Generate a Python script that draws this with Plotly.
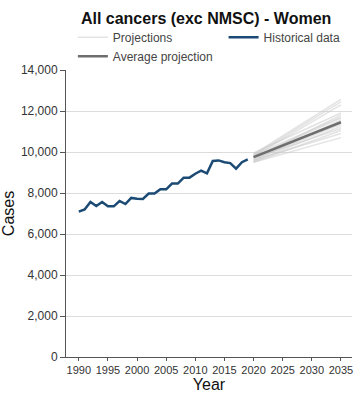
import plotly.graph_objects as go

hist_years = list(range(1990, 2020))
hist_values = [7090, 7200, 7560, 7370, 7560, 7350, 7350, 7610, 7460, 7760,
               7720, 7710, 7970, 7970, 8180, 8180, 8460, 8460, 8750, 8750,
               8940, 9090, 8960, 9560, 9590, 9500, 9460, 9190, 9500, 9640]

proj_years = [2020, 2025, 2030, 2035]
projections = [
    [9900, 10780, 11680, 12570],
    [9850, 10720, 11590, 12450],
    [9800, 10640, 11480, 12300],
    [9950, 10600, 11250, 11900],
    [9700, 10400, 11100, 11800],
    [9750, 10380, 11020, 11650],
    [9600, 10250, 10900, 11550],
    [9800, 10350, 10900, 11450],
    [9650, 10220, 10780, 11350],
    [9550, 10120, 10680, 11250],
    [9700, 10180, 10660, 11150],
    [9500, 10020, 10530, 11050],
    [9600, 10030, 10470, 10900],
    [9500, 9900, 10300, 10700],
    [9850, 10470, 11080, 11700],
]
avg_projection = [9750, 10320, 10890, 11450]

x_ticks = list(range(1990, 2040, 5))
y_ticks = list(range(0, 16000, 2000))

fig = go.Figure()
for i, p in enumerate(projections):
    fig.add_trace(go.Scatter(
        x=proj_years, y=p, mode="lines",
        line=dict(color="rgba(200,200,200,0.5)", width=1.5),
        name="Projections", showlegend=(i == 0), legendgroup="proj",
        legend="legend", hoverinfo="skip"))
fig.add_trace(go.Scatter(
    x=proj_years, y=avg_projection, mode="lines",
    line=dict(color="#6e6e6e", width=2.5),
    name="Average projection", legend="legend"))
fig.add_trace(go.Scatter(
    x=hist_years, y=hist_values, mode="lines",
    line=dict(color="#1b4a74", width=2.5),
    name="Historical data", legend="legend2"))

font_family = "Liberation Sans, Arial, sans-serif"
fig.update_layout(
    width=360, height=400,
    margin=dict(l=66, r=8, t=70, b=43, autoexpand=False),
    plot_bgcolor="white", paper_bgcolor="white",
    font=dict(family=font_family, size=12, color="#333333"),
    title=dict(text="<b>All cancers (exc NMSC) - Women</b>",
               xref="paper", x=0.49, xanchor="center",
               yref="container", y=0.967, yanchor="top",
               font=dict(size=16, color="#111111")),
    legend=dict(x=0.024, y=1.165, xanchor="left", yanchor="top",
                orientation="v", bgcolor="rgba(0,0,0,0)",
                font=dict(size=12, color="#444444"), tracegroupgap=0),
    legend2=dict(x=0.551, y=1.165, xanchor="left", yanchor="top",
                 orientation="v", bgcolor="rgba(0,0,0,0)",
                 font=dict(size=12, color="#444444")),
    xaxis=dict(range=[1987.8, 2036.9], tickvals=x_ticks, tickangle=0,
               showgrid=False, showline=True, linecolor="#555555",
               ticks="outside", ticklen=3, tickcolor="#555555",
               tickfont=dict(size=11, color="#333333"),
               title=dict(text="Year", font=dict(size=16, color="#111111"),
                          standoff=2),
               zeroline=False),
    yaxis=dict(range=[0, 14000], tickvals=y_ticks, tickformat=",",
               showgrid=True, gridcolor="#dcdcdc", gridwidth=1,
               showline=True, linecolor="#555555",
               ticks="outside", ticklen=5, tickcolor="#555555",
               tickfont=dict(size=12, color="#333333"),
               title=dict(text="Cases", font=dict(size=16, color="#111111"),
                          standoff=3),
               automargin=True,
               zeroline=False),
)

fig.write_html("out.html", config={"displayModeBar": False},
               post_script="document.body.style.margin='0';")
